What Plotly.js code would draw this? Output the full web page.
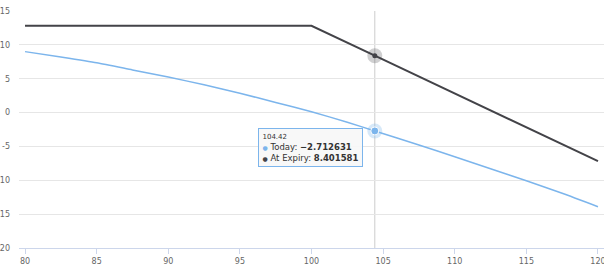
<!DOCTYPE html>
<html>
<head>
<meta charset="utf-8">
<script src="https://cdn.plot.ly/plotly-3.0.1.min.js"></script>
<style>
html,body{margin:0;padding:0;background:#fff;}
#chart{width:604px;height:270px;}
</style>
</head>
<body>
<div id="chart"></div>
<script>
// Underlying price (x) and position value
const todayX   = [80, 82.5, 85, 87.5, 90, 92.5, 95, 97.5, 100, 102.5, 104.42, 107.5, 110, 112.5, 115, 117.5, 120];
const todayY   = [9.0, 8.2, 7.35, 6.3, 5.25, 4.1, 2.85, 1.5, 0.12, -1.43, -2.712631, -4.78, -6.52, -8.3, -10.07, -11.92, -13.9];
const expiryX  = [80, 85, 90, 95, 100, 104.42, 105, 110, 115, 120];
const expiryY  = [12.82, 12.82, 12.82, 12.82, 12.82, 8.401581, 7.82, 2.82, -2.18, -7.18];
const hoverX = 104.42;
const hoverToday = -2.712631;
const hoverExpiry = 8.401581;
const xTicks = [80, 85, 90, 95, 100, 105, 110, 115, 120];
const yTicks = [-20, -15, -10, -5, 0, 5, 10, 15];

const BLUE = '#7cb5ec', DARK = '#434348';
const FONT = 'DejaVu Sans, Lucida Grande, Arial, sans-serif';

const traces = [
  {x: todayX, y: todayY, type: 'scatter', mode: 'lines', name: 'Today',
   line: {color: BLUE, width: 1.5, shape: 'spline', smoothing: 0.6}},
  {x: expiryX, y: expiryY, type: 'scatter', mode: 'lines', name: 'At Expiry',
   line: {color: DARK, width: 2}},
  // hover halos
  {x: [hoverX], y: [hoverExpiry], type: 'scatter', mode: 'markers',
   marker: {size: 15, color: 'rgba(67,67,72,0.25)'}},
  {x: [hoverX], y: [hoverToday], type: 'scatter', mode: 'markers',
   marker: {size: 15, color: 'rgba(124,181,236,0.3)'}},
  {x: [hoverX], y: [hoverExpiry], type: 'scatter', mode: 'markers',
   marker: {size: 5, color: DARK}},
  {x: [hoverX], y: [hoverToday], type: 'scatter', mode: 'markers',
   marker: {size: 8, color: BLUE, line: {color: '#ffffff', width: 1}}}
];

const tip = '<span style="font-size:7px">' + hoverX + '</span><br>' +
  '<span style="color:' + BLUE + ';font-size:6px">●</span> Today: <b>' + hoverToday.toFixed(6).replace('-', '−') + '</b><br>' +
  '<span style="color:' + DARK + ';font-size:6px">●</span> At Expiry: <b>' + hoverExpiry.toFixed(6) + '</b>';

const layout = {
  width: 604, height: 270,
  margin: {l: 19, r: 0, t: 10.5, b: 22, pad: 0},
  paper_bgcolor: '#ffffff', plot_bgcolor: '#ffffff',
  showlegend: false,
  hovermode: false,
  font: {family: FONT, size: 8, color: '#666666'},
  xaxis: {
    range: [79.58, 120.42], tickvals: xTicks, ticktext: xTicks.map(String),
    showgrid: false, zeroline: false,
    showline: true, linecolor: '#ccd6eb', linewidth: 1,
    ticks: 'outside', ticklen: 5, tickcolor: '#ccd6eb', tickwidth: 1,
    ticklabeloverflow: 'allow',
    tickfont: {family: FONT, size: 8, color: '#666666'},
    automargin: false, fixedrange: true
  },
  yaxis: {
    range: [-20, 15], tickvals: yTicks, ticktext: yTicks.map(String),
    showgrid: true, gridcolor: '#e6e6e6', gridwidth: 1,
    zeroline: false, showline: false, ticks: '',
    ticklabelstandoff: 8, ticklabeloverflow: 'allow',
    tickfont: {family: FONT, size: 8, color: '#666666'},
    automargin: false, fixedrange: true
  },
  shapes: [
    {type: 'line', xref: 'x', yref: 'paper', x0: hoverX, x1: hoverX, y0: 0, y1: 1,
     line: {color: '#cccccc', width: 1}, layer: 'below'}
  ],
  annotations: [
    {xref: 'x', yref: 'y', x: hoverX, y: hoverToday, showarrow: false,
     xanchor: 'right', yanchor: 'top', xshift: -12, yshift: 3,
     align: 'left', text: tip,
     font: {family: FONT, size: 8.5, color: '#333333'},
     bgcolor: 'rgba(247,247,247,0.9)', bordercolor: BLUE, borderwidth: 1, borderpad: 3.5}
  ]
};

Plotly.newPlot('chart', traces, layout, {displayModeBar: false, staticPlot: true});
</script>
</body>
</html>
